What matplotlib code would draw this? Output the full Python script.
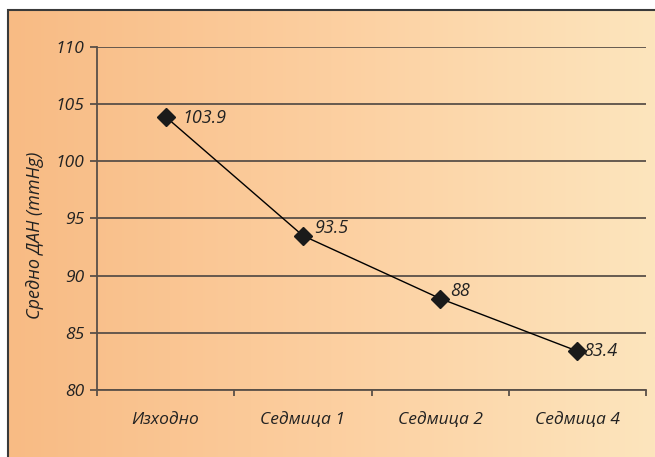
import matplotlib
matplotlib.use("Agg")
import matplotlib.pyplot as plt
import numpy as np
from matplotlib.colors import LinearSegmentedColormap
from matplotlib.patches import Rectangle

categories = ["Изходно", "Седмица 1", "Седмица 2", "Седмица 4"]
values = [103.9, 93.5, 88, 83.4]
labels = ["103.9", "93.5", "88", "83.4"]
yticks = [80, 85, 90, 95, 100, 105, 110]

W, H = 655, 457
fig = plt.figure(figsize=(W / 100, H / 100), dpi=100)
fig.patch.set_facecolor("white")

# gradient background
bg = fig.add_axes([8 / W, 0, 1 - 8 / W, 1 - 10 / H])
cmap = LinearSegmentedColormap.from_list("g", ["#F8BB84", "#FCCFA0", "#FDE5BD"])
grad = np.linspace(0, 1, 256).reshape(1, -1)
bg.imshow(grad, aspect="auto", cmap=cmap, extent=[0, 1, 0, 1])
bg.set_xlim(0, 1)
bg.set_ylim(0, 1)
bg.axis("off")
fig.add_artist(Rectangle((8 / W, -0.01), 1.0, 1 - 10 / H + 0.01, transform=fig.transFigure,
                         fill=False, edgecolor="#3a3a3a", linewidth=1.5, zorder=5))

font = "Open Sans"
fs = 12.5
tc = "#222222"
ax = fig.add_axes([97 / W, 1 - 390 / H, (646 - 97) / W, (390 - 47) / H])
ax.set_facecolor("none")
x = np.arange(len(categories)) + 0.5
ax.plot(x, values, color="black", linewidth=1, marker="D", markersize=9,
        markerfacecolor="#1a1a1a", markeredgecolor="#1a1a1a", zorder=3)
offsets = [(12, -1), (8, 5.5), (7, 5.5), (4, 0)]
for xi, v, lab, off in zip(x, values, labels, offsets):
    ax.annotate(lab, (xi, v), xytext=off, textcoords="offset points", va="center",
                ha="left", fontsize=13, style="italic", family=font, color=tc)

ax.set_xlim(0, len(categories))
ax.set_ylim(80, 110)
ax.set_yticks(yticks)
ax.set_yticklabels([str(t) for t in yticks], fontsize=fs, style="italic", family=font, color=tc)
ax.set_xticks(np.arange(len(categories) + 1))
ax.set_xticklabels([])
ax.set_xticks(x, minor=True)
ax.set_xticklabels(categories, minor=True, fontsize=fs, style="italic", family=font, color=tc)
ax.tick_params(axis="x", which="minor", length=0, pad=16)
ax.tick_params(axis="x", which="major", length=4, width=1.3, color="#5a5048", direction="out")
ax.tick_params(axis="y", length=5, width=1.3, color="#5a5048", pad=4)
ax.yaxis.grid(True, color="#5a5048", linewidth=1.3)
ax.set_axisbelow(True)
for s in ["top", "right"]:
    ax.spines[s].set_visible(False)
for s in ["left", "bottom"]:
    ax.spines[s].set_color("#5a5048")
    ax.spines[s].set_linewidth(1.3)
ax.set_ylabel("Средно ДАН (mmHg)", fontsize=13, style="italic", family=font, color=tc)
ax.yaxis.set_label_coords(44 / W, 1 - 235 / H, transform=fig.transFigure)

fig.savefig("out.png", dpi=100)
